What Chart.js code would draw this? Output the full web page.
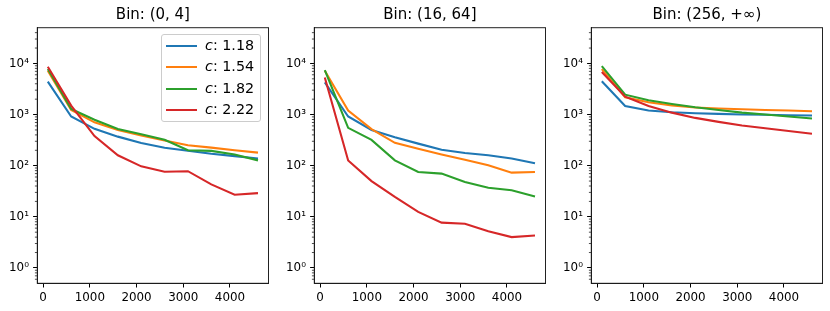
<!DOCTYPE html>
<html>
<head>
<meta charset="utf-8">
<script src="https://cdn.jsdelivr.net/npm/chart.js@4.4.1/dist/chart.umd.min.js"></script>
<style>
  html, body { margin:0; padding:0; background:#fff; }
  #wrap { position:relative; width:830px; height:311px; overflow:hidden; background:#fff; }
  canvas { position:absolute; top:0; }
  .legend { position:absolute; left:161px; top:34px; width:100px; height:88px; box-sizing:border-box;
            border:1px solid #cccccc; border-radius:3px; background:rgba(255,255,255,0.8);
            font-family:'DejaVu Sans', sans-serif; font-size:14.3px; color:#000; z-index:5; }
  .legend .row { position:absolute; left:0; height:21px; line-height:21px; width:100%; }
  .legend .swatch { position:absolute; left:4px; top:10px; width:31px; height:2px; }
  .legend .txt { position:absolute; left:43px; top:0; white-space:nowrap; }
</style>
</head>
<body>
<div id="wrap">
  <canvas id="c0" width="277" height="311" style="left:0px"></canvas>
  <canvas id="c1" width="277" height="311" style="left:277px"></canvas>
  <canvas id="c2" width="276" height="311" style="left:554px"></canvas>
  <div class="legend" id="legend"></div>
</div>
<script>
// ---- data ----
const xValues = [100, 600, 1100, 1600, 2100, 2600, 3100, 3600, 4100, 4600];
const seriesLabels = ['1.18', '1.54', '1.82', '2.22'];
const seriesColors = ['#1f77b4', '#ff7f0e', '#2ca02c', '#d62728'];
const panelTitles = ['Bin: (0, 4]', 'Bin: (16, 64]', 'Bin: (256, +\u221e)'];
const xTicks = [0, 1000, 2000, 3000, 4000];
const xTickLabels = ['0', '1000', '2000', '3000', '4000'];
const yTicks = [1, 10, 100, 1000, 10000];
const yTickLabels = ['10\u2070', '10\u00b9', '10\u00b2', '10\u00b3', '10\u2074'];

// Bin (0, 4]
const bin0_c118 = [4400, 915, 525, 370, 277, 225, 196, 171, 154, 138];
const bin0_c154 = [7200, 1230, 705, 500, 390, 310, 250, 225, 200, 180];
const bin0_c182 = [7750, 1290, 790, 520, 410, 320, 200, 195, 165, 127];
const bin0_c222 = [8600, 1500, 380, 160, 97, 76, 78, 43, 27, 29];

// Bin (16, 64]
const bin1_c118 = [4250, 915, 500, 360, 270, 205, 177, 160, 138, 112];
const bin1_c154 = [7200, 1200, 520, 280, 214, 166, 131, 102, 73, 75];
const bin1_c182 = [7400, 550, 320, 127, 75, 70, 48, 37, 33, 25];
const bin1_c222 = [5300, 126, 50, 24.5, 12.5, 7.7, 7.3, 5.2, 4.0, 4.3];

// Bin (256, +inf)
const bin2_c118 = [4470, 1475, 1200, 1110, 1060, 1030, 1000, 990, 970, 956];
const bin2_c154 = [7750, 2180, 1740, 1500, 1370, 1310, 1270, 1230, 1200, 1160];
const bin2_c182 = [8870, 2450, 1900, 1610, 1390, 1230, 1090, 1000, 915, 835];
const bin2_c222 = [6790, 2240, 1475, 1090, 860, 720, 610, 540, 475, 420];

const panels = [
  [bin0_c118, bin0_c154, bin0_c182, bin0_c222],
  [bin1_c118, bin1_c154, bin1_c182, bin1_c222],
  [bin2_c118, bin2_c154, bin2_c182, bin2_c222]
];

const FONT = "'DejaVu Sans', sans-serif";

const frameAndMinor = {
  id: 'frameAndMinor',
  afterDraw(chart) {
    const ctx = chart.ctx;
    const a = chart.chartArea;
    const ys = chart.scales.y;
    ctx.save();
    ctx.strokeStyle = '#000';
    ctx.lineWidth = 0.7;
    for (let e = -1; e <= 4; e++) {
      for (let m = 2; m <= 9; m++) {
        const v = m * Math.pow(10, e);
        if (v <= ys.min || v >= ys.max) continue;
        const py = ys.getPixelForValue(v);
        ctx.beginPath();
        ctx.moveTo(a.left - 2.4, py);
        ctx.lineTo(a.left, py);
        ctx.stroke();
      }
    }
    ctx.lineWidth = 1;
    ctx.strokeStyle = '#222';
    ctx.strokeRect(a.left, a.top, a.right - a.left, a.bottom - a.top);
    ctx.restore();
  }
};

function makeChart(idx) {
  const series = panels[idx];
  const datasets = series.map((vals, i) => ({
    label: 'c: ' + seriesLabels[i],
    data: xValues.map((x, j) => ({ x: x, y: vals[j] })),
    borderColor: seriesColors[i],
    backgroundColor: seriesColors[i],
    borderWidth: 2.1,
    pointRadius: 0,
    fill: false,
    tension: 0,
    order: 3 - i
  }));
  const gridOpts = { display: true, drawOnChartArea: false, drawTicks: true, tickLength: 4.2, tickWidth: 1, tickColor: '#000' };
  return new Chart(document.getElementById('c' + idx), {
    type: 'line',
    data: { datasets },
    options: {
      responsive: false,
      animation: false,
      devicePixelRatio: 1,
      layout: { padding: { left: 0, right: (idx === 2 ? 7.5 : 8.5), top: 0, bottom: 0 } },
      plugins: {
        legend: { display: false },
        tooltip: { enabled: false },
        title: {
          display: true, text: panelTitles[idx], fullSize: false, color: '#000',
          font: { family: FONT, size: 15, weight: 'normal' },
          padding: { top: 6.2, bottom: 3.5 }
        }
      },
      scales: {
        x: {
          type: 'linear', min: -125, max: 4825,
          afterBuildTicks: s => { s.ticks = xTicks.map(v => ({ value: v })); },
          afterFit: s => { s.height = 27.7; },
          grid: gridOpts,
          border: { display: true, color: '#000', width: 1 },
          ticks: { color: '#000', font: { family: FONT, size: 11.9 }, padding: 3, maxRotation: 0, autoSkip: false,
                   callback: (v, i) => xTickLabels[i] }
        },
        y: {
          type: 'logarithmic', min: 0.5, max: 50000,
          afterBuildTicks: s => { s.ticks = yTicks.map(v => ({ value: v })); },
          afterFit: s => { s.width = 37.3; },
          grid: gridOpts,
          border: { display: true, color: '#000', width: 1 },
          ticks: { color: '#000', font: { family: FONT, size: 11.9 }, padding: 4.2, autoSkip: false,
                   callback: (v, i) => yTickLabels[i] }
        }
      }
    },
    plugins: [frameAndMinor]
  });
}

[0, 1, 2].forEach(makeChart);

// legend (HTML, real text)
const leg = document.getElementById('legend');
seriesLabels.forEach((lab, i) => {
  const row = document.createElement('div');
  row.className = 'row';
  row.style.top = Math.round(i * 21.3) + 'px';
  const sw = document.createElement('div');
  sw.className = 'swatch';
  sw.style.background = seriesColors[i];
  const tx = document.createElement('div');
  tx.className = 'txt';
  tx.innerHTML = '<i>c</i>: ' + lab;
  row.appendChild(sw);
  row.appendChild(tx);
  leg.appendChild(row);
});
</script>
</body>
</html>
